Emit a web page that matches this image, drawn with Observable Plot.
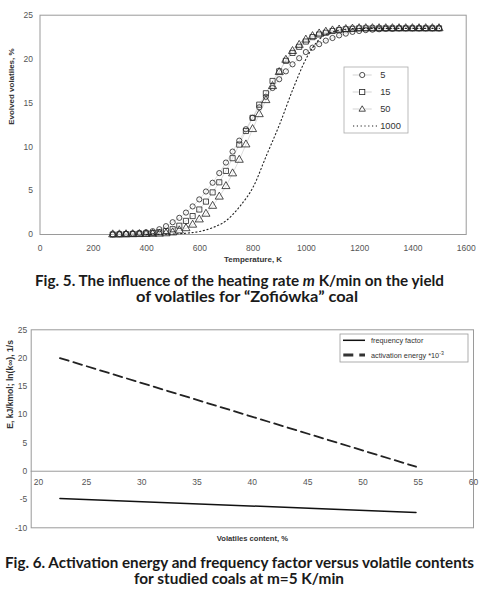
<!DOCTYPE html>
<html><head><meta charset="utf-8">
<script src="https://cdn.jsdelivr.net/npm/d3@7"></script>
<script src="https://cdn.jsdelivr.net/npm/@observablehq/plot@0.6"></script>
<style>
body{margin:0;background:#fff;width:483px;height:606px;position:relative;overflow:hidden;font-family:"Liberation Sans",Arial,sans-serif}
#c1{position:absolute;left:0;top:0}
#c2{position:absolute;left:0;top:305px}
#ov{position:absolute;left:0;top:0;pointer-events:none}
</style></head><body>
<div id="c1"></div><div id="c2"></div>
<svg id="ov" width="483" height="606" xmlns="http://www.w3.org/2000/svg"></svg>
<script>
// ---------- Fig. 5 data ----------
const temperature = [273,298,323,348,373,398,423,448,473,498,523,548,573,598,623,648,673,698,723,748,773,798,823,848,873,898,923,948,973,998,1023,1048,1073,1098,1123,1148,1173,1198,1223,1248,1273,1298,1323,1348,1373,1398,1423,1448,1473,1498];
const rate5  = [0.02,0.05,0.08,0.12,0.18,0.25,0.38,0.6,0.95,1.4,1.9,2.5,3.2,4.0,4.9,5.9,7.0,8.2,9.45,10.7,12.0,13.3,14.5,15.7,16.7,17.7,18.6,19.4,20.1,20.8,21.3,21.7,22.1,22.4,22.7,22.9,23.1,23.2,23.3,23.35,23.4,23.45,23.45,23.5,23.5,23.5,23.5,23.5,23.5,23.5];
const rate15 = [0.0,0.02,0.04,0.06,0.09,0.12,0.17,0.25,0.4,0.6,1.0,1.55,2.1,2.85,3.75,4.8,5.95,7.25,8.7,10.25,11.8,13.3,14.8,16.1,17.5,18.6,19.8,20.7,21.4,22.0,22.5,22.8,23.0,23.2,23.3,23.4,23.45,23.5,23.5,23.5,23.5,23.5,23.5,23.5,23.5,23.5,23.5,23.5,23.5,23.5];
const rate50 = [0.0,0.0,0.01,0.02,0.03,0.04,0.06,0.08,0.12,0.22,0.45,0.7,1.1,1.7,2.35,3.25,4.3,5.5,6.95,8.5,10.25,12.0,13.7,15.3,16.9,18.5,19.9,20.9,21.6,22.2,22.6,22.9,23.1,23.25,23.35,23.4,23.45,23.5,23.5,23.5,23.5,23.5,23.5,23.5,23.5,23.5,23.5,23.5,23.5,23.5];
const temp1000 = [400,450,500,550,600,650,700,750,800,850,900,950,1000,1050,1100,1150,1200,1300,1400,1500];
const rate1000 = [0,0.02,0.06,0.15,0.35,0.8,1.6,3.2,5.4,9.0,12.6,16.6,20.1,22.3,23.1,23.4,23.5,23.5,23.5,23.5];
const xTicks1 = [0,200,400,600,800,1000,1200,1400,1600];
const yTicks1 = [0,5,10,15,20,25];
const legend1 = ["5","15","50","1000"];

// ---------- Fig. 6 data ----------
const volatiles = [22.6, 54.8];
const freqFactor = [-4.8, -7.3];
const actEnergy = [20.0, 0.8];
const xTicks2 = [20,25,30,35,40,45,50,55,60];
const yTicks2 = [-10,-5,0,5,10,15,20,25];

const FONT = "Liberation Sans, Arial, sans-serif";
const tab = (xs, ys) => xs.map((x, i) => ({x, y: ys[i]}));

const markStyle = {stroke: "#222", strokeWidth: 0.8, fill: "none"};

const c1 = Plot.plot({
  width: 483, height: 268,
  marginLeft: 39.5, marginRight: 17.3, marginTop: 14.7, marginBottom: 34,
  style: {fontFamily: FONT, fontSize: "8.5px", background: "white", color: "#555"},
  x: {domain: [0, 1600]},
  y: {domain: [0, 25]},
  marks: [
    Plot.frame({stroke: "#9a9a9a"}),
    Plot.axisX({ticks: xTicks1, tickSize: 0, tickPadding: 10, tickFormat: d => String(d), label: null, fill: "#555"}),
    Plot.axisY({ticks: yTicks1, tickSize: 0, tickPadding: 7, tickFormat: d => String(d), label: null, fill: "#555"}),
    Plot.text(["Temperature, K"], {frameAnchor: "bottom", dy: 27, text: d => d, fontWeight: "bold", fontSize: 8, fill: "#333"}),
    Plot.text(["Evolved volatiles, %"], {frameAnchor: "left", dx: -28.5, rotate: -90, text: d => d, fontWeight: "bold", fontSize: 8, fill: "#333"}),
    Plot.line(tab(temperature, rate5), {x: "x", y: "y", stroke: "#c8c8c8", strokeWidth: 0.6}),
    Plot.line(tab(temperature, rate15), {x: "x", y: "y", stroke: "#c8c8c8", strokeWidth: 0.6}),
    Plot.line(tab(temperature, rate50), {x: "x", y: "y", stroke: "#c8c8c8", strokeWidth: 0.6}),
    Plot.line(tab(temp1000, rate1000), {x: "x", y: "y", curve: "monotone-x", stroke: "#222", strokeWidth: 1.1, strokeDasharray: "1.2,2.6"}),
    Plot.dot(tab(temperature, rate5), {x: "x", y: "y", symbol: "circle", r: 2.6, ...markStyle}),
    Plot.dot(tab(temperature, rate15), {x: "x", y: "y", symbol: "square", r: 2.9, ...markStyle}),
    Plot.dot(tab(temperature, rate50), {x: "x", y: "y", symbol: "triangle", r: 3.0, ...markStyle})
  ]
});
document.getElementById("c1").append(c1);

const c2 = Plot.plot({
  width: 483, height: 245,
  marginLeft: 30.7, marginRight: 10, marginTop: 24.3, marginBottom: 22.7,
  style: {fontFamily: FONT, fontSize: "8.5px", background: "white", color: "#555"},
  x: {domain: [20, 60], axis: null},
  y: {domain: [-10, 25]},
  marks: [
    Plot.frame({stroke: "#9a9a9a"}),
    Plot.ruleY([0], {stroke: "#9a9a9a"}),
    Plot.axisY({ticks: yTicks2, tickSize: 0, tickPadding: 4, tickFormat: d => String(d), label: null, fill: "#555"}),
    Plot.text(xTicks2.slice(0, 1), {x: d => d, y: 0, dy: 11, dx: 2.5, textAnchor: "start", text: d => String(d), fill: "#555"}),
    Plot.text(xTicks2.slice(1), {x: d => d, y: 0, dy: 11, text: d => String(d), fill: "#555"}),
    Plot.text(["Volatiles content, %"], {frameAnchor: "bottom", dy: 12.7, text: d => d, fontWeight: "bold", fontSize: 7.6, fill: "#333"}),
    Plot.text(["E, kJ/kmol; ln(k\u221E), 1/s"], {frameAnchor: "left", dx: -20.7, rotate: -90, text: d => d, fontWeight: "bold", fontSize: 8.6, fill: "#333"}),
    Plot.line(tab(volatiles, actEnergy), {x: "x", y: "y", stroke: "#222", strokeWidth: 1.8, strokeDasharray: "9,5"}),
    Plot.line(tab(volatiles, freqFactor), {x: "x", y: "y", stroke: "#111", strokeWidth: 1.5})
  ]
});
document.getElementById("c2").append(c2);

// ---------- legends & captions (overlay) ----------
const NS = "http://www.w3.org/2000/svg";
const ov = document.getElementById("ov");
function el(tag, attrs, parent = ov) {
  const e = document.createElementNS(NS, tag);
  for (const k in attrs) e.setAttribute(k, attrs[k]);
  parent.appendChild(e);
  return e;
}
// legend 1
el("rect", {x: 344, y: 67, width: 64, height: 66, fill: "white", stroke: "#aaa", "stroke-width": 0.8});
const ly = [75, 92, 109, 126];
for (let i = 0; i < 3; i++) {
  el("line", {x1: 352.7, x2: 371.7, y1: ly[i], y2: ly[i], stroke: "#c0c0c0", "stroke-width": 0.7});
}
el("circle", {cx: 362.2, cy: ly[0], r: 2.6, fill: "white", stroke: "#222", "stroke-width": 0.8});
el("rect", {x: 359.6, y: ly[1] - 2.6, width: 5.2, height: 5.2, fill: "white", stroke: "#222", "stroke-width": 0.8});
el("path", {d: `M362.2,${ly[2] - 3.2}L365.4,${ly[2] + 2.2}L359,${ly[2] + 2.2}Z`, fill: "white", stroke: "#222", "stroke-width": 0.8});
el("line", {x1: 353, x2: 379, y1: ly[3], y2: ly[3], stroke: "#222", "stroke-width": 1.1, "stroke-dasharray": "1.2,2.6"});
legend1.forEach((t, i) => {
  const tx = el("text", {x: 380.2, y: ly[i] + 3.3, "font-family": FONT, "font-size": 9.3, fill: "#333"});
  tx.textContent = t;
});
// legend 2
el("rect", {x: 340, y: 334, width: 128, height: 28, fill: "white", stroke: "#9a9a9a", "stroke-width": 0.8});
el("line", {x1: 343, x2: 365, y1: 340.3, y2: 340.3, stroke: "#111", "stroke-width": 1.5});
el("line", {x1: 343.3, x2: 365, y1: 355, y2: 355, stroke: "#333", "stroke-width": 3, "stroke-dasharray": "10,6"});
const t1 = el("text", {x: 371, y: 342.8, "font-family": FONT, "font-size": 7.3, fill: "#333"});
t1.textContent = "frequency factor";
const t2 = el("text", {x: 371, y: 357.5, "font-family": FONT, "font-size": 7.3, fill: "#333"});
t2.appendChild(document.createTextNode("activation energy *10"));
const sup = el("tspan", {dy: -3, "font-size": 5.2}, t2);
sup.textContent = "-3";

// captions
function caption(x, y, len, parts) {
  const t = el("text", {x, y, textLength: len, lengthAdjust: "spacingAndGlyphs", "font-family": "Lato, 'Open Sans', sans-serif", "font-weight": 700, "font-size": 14.2, fill: "#1a1a1a"});
  parts.forEach(p => {
    const s = el("tspan", p.italic ? {"font-style": "italic"} : {}, t);
    s.textContent = p.t;
  });
}
caption(35, 286, 409, [{t: "Fig. 5. The influence of the heating rate "}, {t: "m", italic: true}, {t: " K/min on the yield"}]);
caption(136, 302.3, 222, [{t: "of volatiles for \u201CZofi\u00F3wka\u201D coal"}]);
caption(5, 568, 469, [{t: "Fig. 6. Activation energy and frequency factor versus volatile contents"}]);
caption(134, 584.3, 210, [{t: "for studied coals at m=5 K/min"}]);
</script>
</body></html>
